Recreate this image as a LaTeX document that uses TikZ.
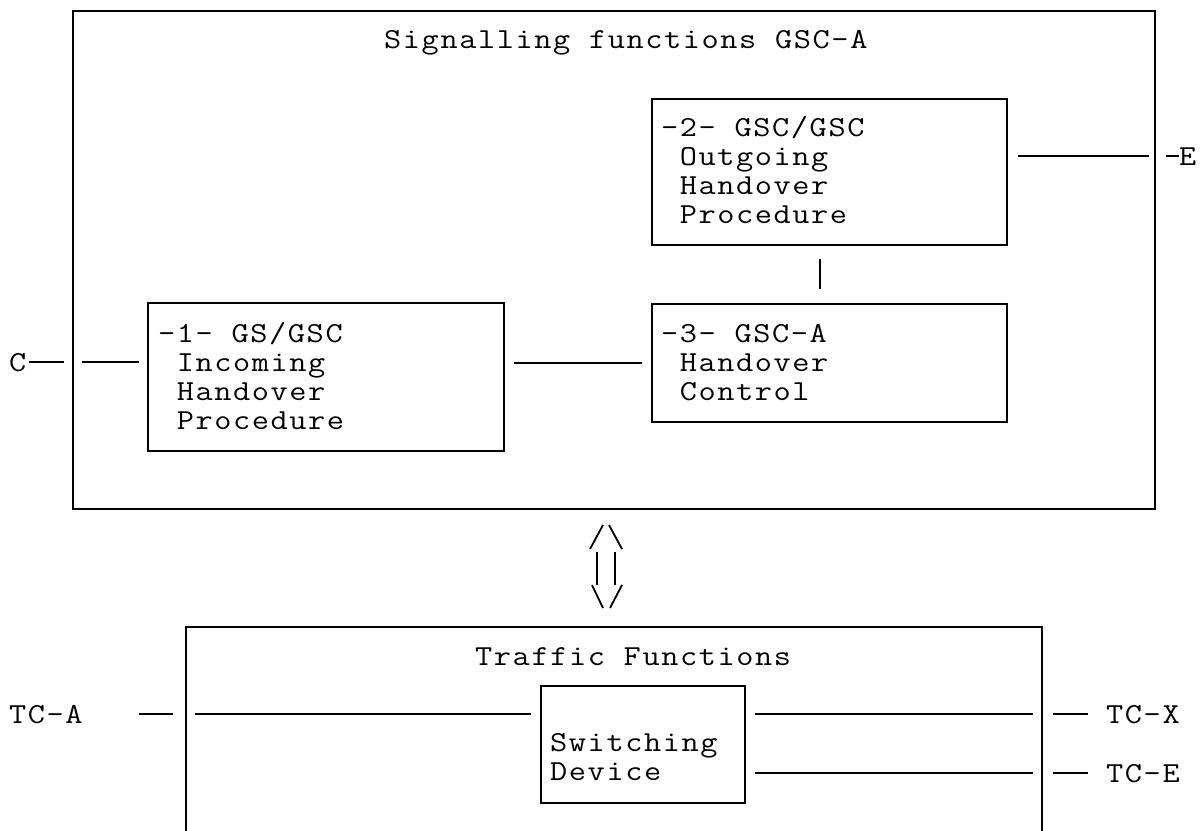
\documentclass[tikz,border=0pt]{standalone}
\usepackage{fontspec}
\setmonofont{Latin Modern Mono}[FakeStretch=1.15,LetterSpace=5.5]
\usetikzlibrary{calc}
\tikzset{fn box/.style={draw,line width=2.2pt,inner sep=0pt}}
\tikzset{ascii/.style={font=\ttfamily\fontsize{29}{28.7}\selectfont,
    inner sep=0pt,anchor=base west,align=left}}
\tikzset{link/.style={line width=2.2pt}}
\newcommand\ind{\hspace*{18.6pt}}

\begin{document}
\begin{tikzpicture}[x=1pt,y=-1pt]
  \useasboundingbox (0,0) rectangle (1204,830);
  % signalling functions (text nodes sit on the baseline of their last line)
  \node[fn box,minimum width=1082pt,minimum height=498pt] (sig) at (614,260) {};
  \node[ascii] (sigtitle) at (384,48) {Signalling functions GSC-A};
  \node[fn box,minimum width=355pt,minimum height=146pt] (ohp) at (829.5,172) {};
  \node[fn box,minimum width=355pt,minimum height=118pt] (hoc) at (829.5,363) {};
  \node[fn box,minimum width=356pt,minimum height=148pt] (ihp) at (326,377) {};
  \node[ascii] (ohptxt) at (661,223) {-2- GSC/GSC\\\ind Outgoing\\\ind Handover\\\ind Procedure};
  \node[ascii] (hoctxt) at (661,400) {-3- GSC-A\\\ind Handover\\\ind Control};
  \node[ascii] (ihptxt) at (158,429) {-1- GS/GSC\\\ind Incoming\\\ind Handover\\\ind Procedure};
  \node[ascii] (cif) at (9,371) {C};
  \node[ascii] (eif) at (1179,165) {E};
  \draw[link] ([xshift=2pt]cif.east) -- ([xshift=-8pt]sig.west |- cif);
  \draw[link] ([xshift=10pt]sig.west |- cif) -- ([xshift=-8pt]ihp.west |- cif);
  \draw[link] ([xshift=9pt]ihp.east |- hoc.west) -- ([xshift=-9pt]hoc.west);
  \draw[link] ([xshift=-9.5pt,yshift=-13pt]ohp.south) -- ([xshift=-9.5pt,yshift=14pt]hoc.north);
  \draw[link] ([xshift=10pt]ohp.east |- eif) -- ([xshift=-7pt]sig.east |- eif);
  \draw[link] ([xshift=10pt]sig.east |- eif) -- (eif.west);
  % double arrow between the two parts
  \coordinate (dbl) at (606,567);
  \draw[line width=1.8pt] ($(dbl)+(-16,-18)$) -- ($(dbl)+(-3,-42)$)
    ($(dbl)+(3,-42)$) -- ($(dbl)+(16,-18)$)
    ($(dbl)+(-14,18)$) -- ($(dbl)+(-3,41)$)
    ($(dbl)+(16,18)$) -- ($(dbl)+(4,41)$);
  \draw[line width=2.4pt] ($(dbl)+(-9,-15)$) -- ($(dbl)+(-9,18)$)
    ($(dbl)+(9,-15)$) -- ($(dbl)+(9,18)$);
  % traffic functions
  \node[fn box,minimum width=856pt,minimum height=233pt] (tfn) at (614,743.5) {};
  \node[ascii] (tfntitle) at (475,665) {Traffic Functions};
  \node[fn box,minimum width=204pt,minimum height=117pt] (swd) at (643,744.5) {};
  \node[ascii] (swdtxt) at (550,780) {Switching\\Device};
  \node[ascii] (tca) at (9,723) {TC-A};
  \node[ascii] (tcx) at (1106,723) {TC-X};
  \node[ascii] (tce) at (1106,782) {TC-E};
  \draw[link] ([xshift=-46pt]tfn.west |- tca) -- ([xshift=-12pt]tfn.west |- tca);
  \draw[link] ([xshift=10pt]tfn.west |- tca) -- ([xshift=-9pt]swd.west |- tca);
  \foreach \tc in {tcx,tce}{
    \draw[link] ([xshift=9pt]swd.east |- \tc) -- ([xshift=-10pt]tfn.east |- \tc);
    \draw[link] ([xshift=10pt]tfn.east |- \tc) -- ([xshift=45pt]tfn.east |- \tc);
  }
\end{tikzpicture}
\end{document}
